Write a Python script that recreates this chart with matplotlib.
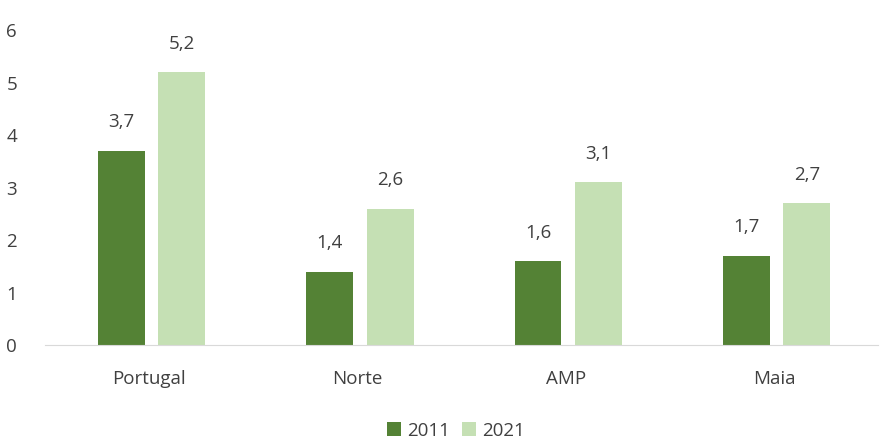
import matplotlib.pyplot as plt
import numpy as np

plt.rcParams['font.family'] = ['Open Sans', 'DejaVu Sans']

categories = ['Portugal', 'Norte', 'AMP', 'Maia']
years = ['2011', '2021']
values_2011 = [3.7, 1.4, 1.6, 1.7]
values_2021 = [5.2, 2.6, 3.1, 2.7]

colors = ['#548235', '#C5E0B4']
txt = '#404040'
fs = 13.5

fig = plt.figure(figsize=(8.8, 4.38), dpi=100)
ax = fig.add_axes([0.051, 0.2123, 0.947, 0.7192])

x = np.arange(len(categories))
w = 0.225
off = 0.145
shift = 0.012
b1 = ax.bar(x - off + shift, values_2011, w, color=colors[0], label=years[0])
b2 = ax.bar(x + off + shift, values_2021, w, color=colors[1], label=years[1])

for bars in (b1, b2):
    for r in bars:
        h = r.get_height()
        ax.text(r.get_x() + r.get_width() / 2, h + 0.37, f'{h:.1f}'.replace('.', ','),
                ha='center', va='bottom', fontsize=fs, color=txt)

ax.set_xlim(-0.5, len(categories) - 0.5)
ax.set_ylim(0, 6)
ax.set_yticks(range(0, 7))
ax.set_xticks(x)
ax.set_xticklabels(categories)
ax.tick_params(axis='both', length=0, labelsize=fs, colors=txt)
ax.tick_params(axis='x', pad=18)
ax.tick_params(axis='y', pad=20)
for s in ['top', 'right', 'left']:
    ax.spines[s].set_visible(False)
ax.spines['bottom'].set_color('#D9D9D9')

fig.legend(handles=[b1, b2], labels=years, loc='lower center', ncol=2,
           bbox_to_anchor=(0.518, -0.042), frameon=False, fontsize=fs,
           handlelength=0.75, handleheight=0.75, handletextpad=0.35, columnspacing=0.6,
           labelcolor=txt)

fig.savefig('out.png', dpi=100)
